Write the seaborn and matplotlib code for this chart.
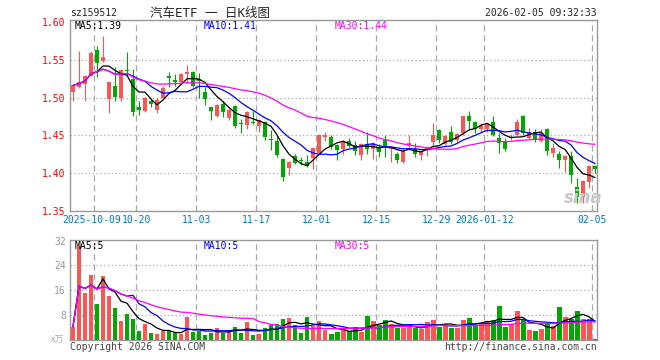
import numpy as np
import pandas as pd
import matplotlib
matplotlib.use("Agg")
import matplotlib.pyplot as plt
import matplotlib.transforms as mtransforms
import seaborn as sns

# trading days shown on the daily K chart (holidays dropped)
holidays = ["2025-10-01", "2025-10-02", "2025-10-03", "2025-10-06", "2025-10-07",
            "2025-10-08", "2026-01-01", "2026-01-02"]
dates = pd.bdate_range("2025-09-25", "2026-02-05")
dates = dates[~dates.isin(pd.to_datetime(holidays))]

opens = [1.507, 1.514, 1.518, 1.529, 1.563, 1.548, 1.498, 1.515, 1.500, 1.5365,
         1.525, 1.487, 1.482, 1.496, 1.484, 1.500, 1.528, 1.523, 1.520, 1.531,
         1.534, 1.524, 1.508, 1.488, 1.476, 1.491, 1.473, 1.489, 1.466, 1.464,
         1.467, 1.463, 1.468, 1.445, 1.443, 1.419, 1.407, 1.423, 1.417, 1.415,
         1.420, 1.427, 1.448, 1.448, 1.437, 1.432, 1.443, 1.437, 1.424, 1.439,
         1.432, 1.435, 1.444, 1.432, 1.425, 1.415, 1.436, 1.432, 1.424, 1.431,
         1.441, 1.457, 1.439, 1.454, 1.444, 1.453, 1.476, 1.468, 1.459, 1.459,
         1.468, 1.446, 1.442, 1.446, 1.451, 1.476, 1.446, 1.454, 1.443, 1.459,
         1.427, 1.425, 1.417, 1.423, 1.382, 1.368, 1.389, 1.409]
highs = [1.517, 1.562, 1.530, 1.561, 1.568, 1.581, 1.521, 1.541, 1.538, 1.560,
         1.538, 1.496, 1.501, 1.500, 1.500, 1.515, 1.534, 1.531, 1.532, 1.543,
         1.535, 1.532, 1.514, 1.488, 1.492, 1.495, 1.487, 1.490, 1.472, 1.482,
         1.482, 1.472, 1.469, 1.457, 1.449, 1.420, 1.416, 1.425, 1.422, 1.424,
         1.434, 1.452, 1.455, 1.450, 1.439, 1.444, 1.446, 1.443, 1.440, 1.454,
         1.441, 1.439, 1.451, 1.436, 1.428, 1.432, 1.451, 1.440, 1.429, 1.436,
         1.467, 1.459, 1.451, 1.463, 1.453, 1.476, 1.482, 1.469, 1.467, 1.467,
         1.476, 1.453, 1.446, 1.452, 1.472, 1.477, 1.460, 1.459, 1.459, 1.460,
         1.440, 1.430, 1.424, 1.429, 1.394, 1.391, 1.411, 1.411]
lows = [1.496, 1.513, 1.496, 1.528, 1.527, 1.547, 1.480, 1.496, 1.496, 1.528,
        1.475, 1.477, 1.481, 1.487, 1.479, 1.499, 1.514, 1.515, 1.518, 1.519,
        1.514, 1.500, 1.490, 1.470, 1.474, 1.474, 1.471, 1.460, 1.453, 1.458,
        1.465, 1.454, 1.444, 1.431, 1.421, 1.390, 1.397, 1.412, 1.411, 1.408,
        1.406, 1.426, 1.443, 1.432, 1.418, 1.426, 1.434, 1.424, 1.418, 1.425,
        1.419, 1.422, 1.422, 1.415, 1.414, 1.414, 1.431, 1.422, 1.417, 1.423,
        1.433, 1.440, 1.437, 1.439, 1.441, 1.450, 1.457, 1.453, 1.453, 1.455,
        1.449, 1.427, 1.430, 1.444, 1.450, 1.451, 1.445, 1.441, 1.441, 1.424,
        1.422, 1.407, 1.402, 1.387, 1.361, 1.361, 1.380, 1.400]
closes = [1.516, 1.521, 1.529, 1.559, 1.546, 1.554, 1.520, 1.501, 1.537, 1.535,
          1.481, 1.483, 1.500, 1.491, 1.497, 1.513, 1.526, 1.520, 1.531, 1.534,
          1.515, 1.522, 1.498, 1.482, 1.490, 1.481, 1.484, 1.463, 1.465, 1.481,
          1.466, 1.471, 1.448, 1.444, 1.424, 1.395, 1.415, 1.414, 1.416, 1.409,
          1.433, 1.451, 1.451, 1.435, 1.431, 1.443, 1.436, 1.429, 1.439, 1.432,
          1.440, 1.428, 1.435, 1.435, 1.418, 1.430, 1.440, 1.425, 1.428, 1.434,
          1.450, 1.444, 1.449, 1.441, 1.452, 1.475, 1.469, 1.458, 1.463, 1.465,
          1.451, 1.440, 1.432, 1.448, 1.468, 1.453, 1.454, 1.444, 1.453, 1.430,
          1.433, 1.418, 1.423, 1.397, 1.368, 1.390, 1.410, 1.406]
# volume in 10k lots
volumes = [4.3, 30.4, 15.1, 20.9, 11.5, 20.5, 14.1, 10.2, 6.2, 8.3,
           6.8, 3.0, 5.3, 2.3, 1.9, 3.0, 2.8, 2.1, 1.9, 7.5,
           2.6, 3.0, 1.7, 2.1, 3.8, 2.3, 3.2, 4.1, 2.3, 5.8,
           1.5, 1.9, 3.8, 4.7, 5.3, 6.8, 7.0, 4.7, 2.1, 7.3,
           4.5, 6.0, 3.2, 1.9, 2.6, 3.4, 2.8, 4.1, 2.6, 7.7,
           6.2, 4.9, 6.6, 5.3, 3.8, 3.8, 4.5, 3.8, 3.6, 5.8,
           6.6, 4.3, 5.3, 3.8, 3.8, 6.4, 7.0, 4.9, 5.3, 6.2,
           6.4, 10.9, 4.3, 5.3, 9.4, 6.4, 3.2, 2.8, 3.6, 5.1,
           4.5, 10.7, 7.5, 6.8, 9.4, 6.8, 6.8, 0.4]

label_dates = ["2025-10-09", "2025-10-20", "2025-11-03", "2025-11-17", "2025-12-01",
               "2025-12-15", "2025-12-29", "2026-01-12", "2026-02-05"]
tick_labels = ["2025-10-09", "10-20", "11-03", "11-17", "12-01",
               "12-15", "12-29", "2026-01-12", "02-05"]
ma_windows = [5, 10, 30]
price_ma_text = ["MA5:1.39", "MA10:1.41", "MA30:1.44"]
vol_ma_text = ["MA5:5", "MA10:5", "MA30:5"]

df = pd.DataFrame({"date": dates, "open": opens, "high": highs, "low": lows,
                   "close": closes, "vol": volumes})
df["i"] = np.arange(len(df))
df["up"] = df["close"] >= df["open"]
for n in ma_windows:
    df[f"ma{n}"] = df["close"].rolling(n, min_periods=1).mean()
    df[f"vma{n}"] = df["vol"].rolling(n, min_periods=1).mean()

RED, GREEN = "#ff5454", "#00a800"
MA_COLORS = ["black", "#0000ff", "#ff00ff"]
GRID = "#aaaaaa"
df["color"] = np.where(df["up"], RED, GREEN)

sns.set_style("white")
plt.rcParams["font.family"] = ["DejaVu Sans Mono", "Noto Sans CJK SC"]

W, H = 660, 360
fig = plt.figure(figsize=(6.6, 3.6), dpi=100)
ax1 = fig.add_axes([70 / W, 1 - 211 / H, 527 / W, 191 / H])
ax2 = fig.add_axes([70 / W, 20 / H, 527 / W, 100 / H])

grid_x = [df.index[df["date"] == pd.Timestamp(d)][0] - 0.45 for d in label_dates]

# price candles
body_lo = df[["open", "close"]].min(axis=1)
body_h = (df["close"] - df["open"]).abs().clip(lower=0.0012)
ax1.vlines(df["i"], df["low"], df["high"], colors=df["color"], lw=0.8, zorder=3)
ax1.bar(df["i"], body_h, bottom=body_lo, width=0.82, color=df["color"], lw=0, zorder=4)
for n, c in zip(ma_windows, MA_COLORS):
    sns.lineplot(x=df["i"], y=df[f"ma{n}"], color=c, lw=0.9, ax=ax1, zorder=5)

# volume bars
sns.barplot(x=df["i"], y=df["vol"], hue=df["up"], palette={True: RED, False: GREEN},
            native_scale=True, width=0.83, dodge=False, errorbar=None, legend=False,
            saturation=1, linewidth=0, ax=ax2, zorder=3)
for n, c in zip(ma_windows, MA_COLORS):
    sns.lineplot(x=df["i"], y=df[f"vma{n}"], color=c, lw=0.9, ax=ax2, zorder=5)

for ax in (ax1, ax2):
    ax.set_xlim(-0.5, 87.33)
    ax.set_xlabel("")
    ax.set_ylabel("")
    for x in grid_x:
        ax.axvline(x, color=GRID, lw=0.9, ls=(0, (5, 3)), zorder=1)
    for s in ax.spines.values():
        s.set_color("#999999")
        s.set_linewidth(1)
    ax.tick_params(length=0)

fs = 7
ax1.set_ylim(1.35, 1.6026)
for y in [1.40, 1.45, 1.50, 1.55]:
    ax1.axhline(y, color=GRID, lw=0.9, ls=(0, (1, 2)), zorder=1)
ax1.set_yticks([1.35, 1.40, 1.45, 1.50, 1.55, 1.60])
ax1.set_yticklabels([f"{v:.2f}" for v in [1.35, 1.40, 1.45, 1.50, 1.55, 1.60]],
                    color="red", fontsize=fs)
ax1.set_xticks(grid_x)
ax1.set_xticklabels(tick_labels, color="#0078c8", fontsize=fs)
ax1.tick_params(axis="x", pad=3)
ax1.tick_params(axis="y", pad=3)
# first date label sits a little left, as in the original
first = ax1.get_xticklabels()[0]
first.set_transform(first.get_transform() +
                    mtransforms.ScaledTranslation(-3 / 100, 0, fig.dpi_scale_trans))

ax2.set_ylim(0, 32.2)
for y in [8, 16, 24]:
    ax2.axhline(y, color=GRID, lw=0.9, ls=(0, (1, 2)), zorder=1)
ax2.set_yticks([8, 16, 24, 32])
ax2.set_yticklabels(["8", "16", "24", "32"], color="#999999", fontsize=fs)
ax2.set_xticks([])
ax2.tick_params(axis="y", pad=3)

# texts
for t, c, x in zip(price_ma_text, MA_COLORS, [75, 204, 335]):
    fig.text(x / W, 1 - 26 / H, t, color=c, fontsize=fs, va="center")
for t, c, x in zip(vol_ma_text, MA_COLORS, [75, 204, 335]):
    fig.text(x / W, 1 - 246 / H, t, color=c, fontsize=fs, va="center")
fig.text(70 / W, 1 - 13 / H, "sz159512", fontsize=fs, va="center")
fig.text(150 / W, 1 - 13 / H, "汽车ETF 一 日K线图", fontsize=9, va="center")
fig.text(597 / W, 1 - 13 / H, "2026-02-05 09:32:33", fontsize=fs, va="center", ha="right")
fig.text(70 / W, 1 - 347 / H, "Copyright 2026 SINA.COM", fontsize=fs, va="center",
         color="#444444")
fig.text(597 / W, 1 - 347 / H, "http://finance.sina.com.cn", fontsize=fs, va="center",
         ha="right", color="#444444")
fig.text(64 / W, 1 - 340 / H, "x万", fontsize=6.5, va="center", ha="right",
         color="#aaaaaa", family=["Noto Sans CJK SC", "DejaVu Sans"])
fig.text(583 / W, 1 - 198 / H, "sina", fontsize=12, va="center", ha="center",
         color="#c8c8c8", style="italic", weight="bold", family="DejaVu Sans")

fig.savefig("out.png", dpi=100)
